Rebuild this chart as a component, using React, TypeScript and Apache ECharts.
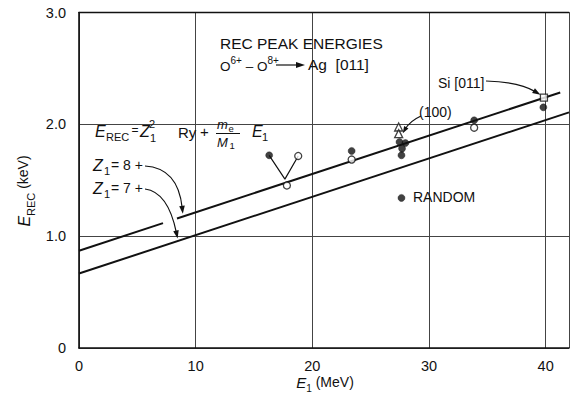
import React, { useEffect, useRef } from "react";
import * as echarts from "echarts";

// Axis ticks
const X_TICKS = [0, 10, 20, 30, 40];
const Y_TICK_LABELS: Record<number, string> = { 0: "0", 1: "1.0", 2: "2.0", 3: "3.0" };

// Theoretical REC peak lines, E1 (MeV) -> E_REC (keV)
const Z8_LEFT = [[0, 0.87], [7.2, 1.117]];
const Z8_RIGHT = [[8.4, 1.158], [41.25, 2.285]];
const Z7_LINE = [[0, 0.666], [42, 2.107]];

// Measured peak energies
const FILLED = [
  [16.3, 1.723], [23.37, 1.762], [27.47, 1.842], [27.98, 1.833],
  [27.69, 1.783], [27.64, 1.723], [33.87, 2.036], [39.8, 2.152],
];
const OPEN = [[18.79, 1.717], [17.82, 1.453], [23.37, 1.685], [33.87, 1.97]];
const TRIANGLES = [[27.4, 1.976], [27.4, 1.917]];
const SI_SQUARE = [[39.85, 2.238]];
const RANDOM_PT = [[27.64, 1.342]];
const V_LINK = [[16.3, 1.723], [17.65, 1.51], [18.79, 1.717]];

// Arrow targets in data space
const Z8_TARGET = [8.9, 1.2];
const Z7_TARGET = [8.45, 0.98];
const SI_TARGET = [39.55, 2.265];
const PLANE_TARGET = [27.75, 1.92];

const FONT = "'Liberation Sans', Arial, sans-serif";
const INK = "#111";

function txt(text: string, x: number, y: number, size: number, italic = false, align = "left") {
  return {
    type: "text",
    x,
    y,
    z: 10,
    style: {
      text,
      fontSize: size,
      fontFamily: FONT,
      fontStyle: italic ? "italic" : "normal",
      fill: INK,
      textAlign: align,
      textVerticalAlign: "middle",
    },
  };
}

function arrow(start: number[], ctrl: number[], tip: number[], len = 8, half = 2.8) {
  const dx = tip[0] - ctrl[0];
  const dy = tip[1] - ctrl[1];
  const d = Math.hypot(dx, dy) || 1;
  const ux = dx / d;
  const uy = dy / d;
  const bx = tip[0] - ux * len;
  const by = tip[1] - uy * len;
  return [
    {
      type: "bezierCurve",
      z: 10,
      shape: { x1: start[0], y1: start[1], cpx1: ctrl[0], cpy1: ctrl[1], x2: bx + ux * 2, y2: by + uy * 2 },
      style: { stroke: INK, lineWidth: 1.2, fill: "none" },
    },
    {
      type: "polygon",
      z: 10,
      shape: { points: [tip, [bx - uy * half, by + ux * half], [bx + uy * half, by - ux * half]] },
      style: { fill: INK },
    },
  ];
}

const lineSeries = (data: number[][], width: number) => ({
  type: "line",
  data,
  symbol: "none",
  z: 2,
  lineStyle: { color: INK, width },
});

const markerSeries = (data: number[][], symbol: string, size: number, filled: boolean) => ({
  type: "scatter",
  data,
  symbol,
  symbolSize: size,
  z: 4,
  itemStyle: filled
    ? { color: INK, borderColor: INK, borderWidth: 0.5 }
    : { color: "#fff", borderColor: INK, borderWidth: 1.3 },
});

export default function App() {
  const ref = useRef<HTMLDivElement>(null);

  useEffect(() => {
    const chart = echarts.init(ref.current!, null, { renderer: "svg" });
    chart.setOption({
      animation: false,
      backgroundColor: "#fff",
      grid: { left: 79, top: 12.5, width: 492.5, height: 335.5 },
      xAxis: [
        {
          type: "value",
          min: 0,
          max: 42,
          interval: 10,
          axisLine: { show: true, lineStyle: { color: INK, width: 1.6 } },
          axisTick: { show: false },
          splitLine: { show: true, lineStyle: { color: "#444", width: 1 } },
          axisLabel: {
            margin: 10,
            fontSize: 14.5,
            fontFamily: FONT,
            color: INK,
            formatter: (v: number) => (X_TICKS.includes(v) ? String(v) : ""),
          },
        },
        {
          type: "value",
          position: "top",
          min: 0,
          max: 42,
          axisLine: { show: true, lineStyle: { color: INK, width: 1.3 } },
          axisTick: { show: false },
          axisLabel: { show: false },
          splitLine: { show: false },
        },
      ],
      yAxis: {
        type: "value",
        min: 0,
        max: 3,
        interval: 1,
        axisLine: { show: true, lineStyle: { color: INK, width: 1.6 } },
        axisTick: { show: false },
        splitLine: { show: true, lineStyle: { color: "#444", width: 1 } },
        axisLabel: {
          margin: 13,
          fontSize: 14.5,
          fontFamily: FONT,
          color: INK,
          formatter: (v: number) => Y_TICK_LABELS[v] ?? "",
        },
      },
      series: [
        lineSeries(Z8_LEFT, 2),
        lineSeries(Z8_RIGHT, 2),
        lineSeries(Z7_LINE, 2),
        lineSeries(V_LINK, 1.2),
        markerSeries(FILLED, "circle", 7, true),
        markerSeries(RANDOM_PT, "circle", 7, true),
        markerSeries(OPEN, "circle", 7, false),
        markerSeries(TRIANGLES, "triangle", 8, false),
        markerSeries(SI_SQUARE, "rect", 7, false),
      ],
    });

    const px = (p: number[]) => chart.convertToPixel({ seriesIndex: 0 }, p) as number[];

    const z8 = px(Z8_TARGET);
    const z7 = px(Z7_TARGET);
    const si = px(SI_TARGET);
    const pl = px(PLANE_TARGET);

    const graphic: any[] = [
      // title block
      txt("REC PEAK ENERGIES", 220, 43, 15.5),
      {
        type: "text",
        x: 220,
        y: 64,
        z: 10,
        style: {
          text: "{m|O}{s|6+}{m| – O}{s|8+}",
          fontFamily: FONT,
          fill: INK,
          textVerticalAlign: "middle",
          rich: {
            m: { fontSize: 13.5, fontFamily: FONT, color: INK, lineHeight: 18, verticalAlign: "bottom" },
            s: { fontSize: 10, fontFamily: FONT, color: INK, lineHeight: 12, verticalAlign: "top" },
          },
        },
      },
      { type: "line", z: 10, shape: { x1: 276, y1: 65, x2: 298, y2: 65 }, style: { stroke: INK, lineWidth: 1.2 } },
      { type: "polygon", z: 10, shape: { points: [[305, 65], [296, 62], [296, 68]] }, style: { fill: INK } },
      txt("Ag  [011]", 308, 64, 15.5),

      // formula
      txt("E", 95, 131, 16, true),
      txt("REC", 106, 137, 11),
      txt("=", 131.5, 130, 12),
      txt("Z", 140, 131, 16, true),
      txt("2", 149, 124, 11),
      txt("1", 150, 138, 11),
      txt("Ry", 178, 132, 15),
      txt("+", 200, 131, 15),
      txt("m", 217, 124.5, 13, true),
      txt("e", 228.5, 128, 9.5),
      { type: "line", z: 10, shape: { x1: 216, y1: 133.5, x2: 240, y2: 133.5 }, style: { stroke: INK, lineWidth: 1 } },
      txt("M", 217, 142, 13, true),
      txt("1", 229.5, 145, 9.5),
      txt("E", 252, 131, 16, true),
      txt("1", 262, 137, 11),

      // Z1 labels
      txt("Z", 93, 165, 16, true),
      txt("1", 104, 171, 11),
      txt("= 8 +", 111, 165, 14),
      txt("Z", 93, 188, 16, true),
      txt("1", 104, 194, 11),
      txt("= 7 +", 111, 188, 14),

      // point labels
      txt("(100)", 419, 112, 14),
      txt("Si [011]", 438, 83, 14),
      txt("RANDOM", 413, 197, 14),

      // axis titles
      {
        type: "text",
        x: 325,
        y: 384,
        z: 10,
        style: {
          text: "{i|E}{s|1}{m| (MeV)}",
          fontFamily: FONT,
          fill: INK,
          textAlign: "center",
          textVerticalAlign: "middle",
          rich: {
            i: { fontSize: 15, fontStyle: "italic", fontFamily: FONT, color: INK, lineHeight: 18, verticalAlign: "top" },
            s: { fontSize: 10, fontFamily: FONT, color: INK, lineHeight: 12, verticalAlign: "bottom" },
            m: { fontSize: 14, fontFamily: FONT, color: INK, lineHeight: 18, verticalAlign: "top" },
          },
        },
      },
      {
        type: "text",
        x: 26,
        y: 191,
        rotation: Math.PI / 2,
        z: 10,
        style: {
          text: "{i|E}{s|REC}{m| (keV)}",
          fontFamily: FONT,
          fill: INK,
          textAlign: "center",
          textVerticalAlign: "middle",
          rich: {
            i: { fontSize: 16, fontStyle: "italic", fontFamily: FONT, color: INK, lineHeight: 20, verticalAlign: "top" },
            s: { fontSize: 11, fontFamily: FONT, color: INK, lineHeight: 12, verticalAlign: "bottom" },
            m: { fontSize: 14, fontFamily: FONT, color: INK, lineHeight: 20, verticalAlign: "top" },
          },
        },
      },

      // leader arrows
      ...arrow([145, 166], [178, 168], z8),
      ...arrow([145, 189], [168, 192], z7),
      ...arrow([486, 81], [519, 82], si),
      ...arrow([421, 116], [410, 121], pl, 7, 2.5),
    ];

    chart.setOption({ graphic });

    return () => chart.dispose();
  }, []);

  return (
    <div
      ref={ref}
      style={{ position: "fixed", left: 0, top: 0, width: 572, height: 398, background: "#fff" }}
    />
  );
}
